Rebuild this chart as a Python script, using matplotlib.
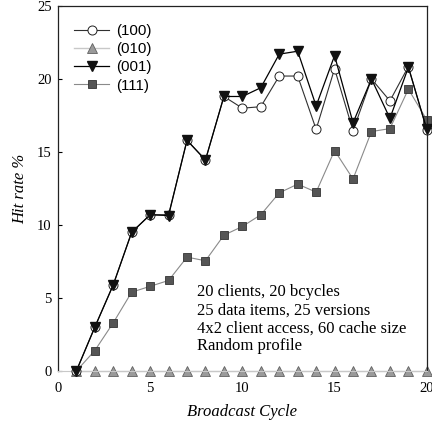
import matplotlib
matplotlib.use("Agg")
from matplotlib import pyplot as plt
import numpy as np

# broadcast cycles 1..20
cycles = np.arange(1, 21)

# hit rate (%) per cycle for each access pattern
hit_100 = [0, 3.0, 5.9, 9.5, 10.7, 10.7, 15.8, 14.45, 18.8, 18.0,
           18.1, 20.2, 20.2, 16.55, 20.7, 16.45, 20.0, 18.5, 20.85, 16.5]
hit_010 = [0] * 20
hit_001 = [0, 3.0, 5.9, 9.5, 10.7, 10.65, 15.8, 14.45, 18.8, 18.8,
           19.4, 21.7, 21.9, 18.15, 21.6, 17.0, 20.0, 17.3, 20.8, 16.55]
hit_111 = [0, 1.4, 3.3, 5.4, 5.8, 6.2, 7.8, 7.55, 9.3, 9.9,
           10.7, 12.2, 12.8, 12.25, 15.1, 13.15, 16.4, 16.6, 19.3, 17.2]

labels = ['(100)', '(010)', '(001)', '(111)']
note = ('20 clients, 20 bcycles\n25 data items, 25 versions\n'
        '4x2 client access, 60 cache size\nRandom profile')

serif = 'Liberation Serif'

fig = plt.figure(figsize=(4.32, 4.25), dpi=100)
ax = fig.add_axes([0.134, 0.127, 0.854, 0.859])

ax.plot(cycles, hit_111, color='#8a8a8a', lw=0.8, marker='s', ms=5.5,
        mfc='#555555', mec='#333333', mew=0.6, label=labels[3], zorder=2,
        clip_on=False)
ax.plot(cycles, hit_010, color='#c8c8c8', lw=1.0, marker='^', ms=6.5,
        mfc='#9a9a9a', mec='#606060', mew=0.6, label=labels[1], zorder=2,
        clip_on=False)
ax.plot(cycles, hit_100, color='#303030', lw=0.8, marker='o', ms=6.5,
        mfc='white', mec='#202020', mew=0.7, label=labels[0], zorder=3,
        clip_on=False)
ax.plot(cycles, hit_001, color='black', lw=0.9, marker='v', ms=7,
        mfc='#111111', mec='#111111', label=labels[2], zorder=4,
        clip_on=False)

ax.set_xlim(0, 20)
ax.set_ylim(0, 25)
ax.set_xticks([0, 5, 10, 15, 20])
ax.set_yticks([0, 5, 10, 15, 20, 25])
ax.tick_params(axis='y', direction='in', length=3, width=0.8, pad=4.5,
               labelsize=10.5)
ax.tick_params(axis='x', length=0, pad=8, labelsize=10.5)
for lab in ax.get_xticklabels() + ax.get_yticklabels():
    lab.set_fontfamily(serif)

for side in ['left', 'top', 'right']:
    ax.spines[side].set_color('#222222')
    ax.spines[side].set_linewidth(0.9)
ax.spines['bottom'].set_color('#c8c8c8')

ax.set_xlabel('Broadcast Cycle', fontfamily=serif, fontstyle='italic',
              fontsize=12)
ax.set_ylabel('Hit rate %', fontfamily=serif, fontstyle='italic',
              fontsize=12)
ax.xaxis.set_label_coords(0.5, -0.09)
ax.yaxis.set_label_coords(-0.08, 0.5)

handles, labs = ax.get_legend_handles_labels()
order = [labs.index(l) for l in labels]
ax.legend([handles[i] for i in order], labels, loc='upper left',
          bbox_to_anchor=(0.02, 0.975), frameon=False,
          prop={'family': 'Liberation Sans', 'size': 10.8},
          handlelength=2.3, handletextpad=0.5, labelspacing=0.28,
          borderaxespad=0.2)

ax.text(7.55, 3.55, note, fontfamily=serif, fontsize=12, va='center',
        ha='left', linespacing=1.17)

fig.savefig('out.png', dpi=100)
